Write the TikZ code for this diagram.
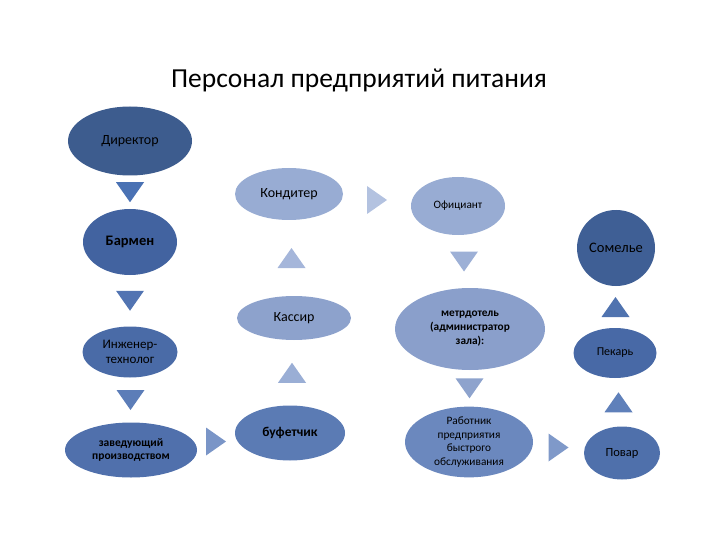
\documentclass[tikz,border=0pt]{standalone}
\usepackage{fontspec}
\setmainfont{Carlito}
\usepackage{xcolor}
\usepackage{tikz}
\usetikzlibrary{shapes.geometric,calc}

% ellipse fills
\definecolor{cDir}{HTML}{3D5C8E}
\definecolor{cBar}{HTML}{4263A0}
\definecolor{cIng}{HTML}{4A6BA7}
\definecolor{cZav}{HTML}{5070AC}
\definecolor{cBuf}{HTML}{5B7BB4}
\definecolor{cKas}{HTML}{8DA2CC}
\definecolor{cKon}{HTML}{98ACD3}
\definecolor{cMet}{HTML}{8A9FCB}
\definecolor{cRab}{HTML}{6B88BE}
\definecolor{cPov}{HTML}{4F70AB}
\definecolor{cPek}{HTML}{4869A6}
\definecolor{cSom}{HTML}{3F5F95}
% arrow triangles
\definecolor{tDir}{HTML}{4A72B4}
\definecolor{tBar}{HTML}{5274B2}
\definecolor{tIng}{HTML}{5C7DB8}
\definecolor{tZav}{HTML}{7A95C7}
\definecolor{tBuf}{HTML}{9AAED5}
\definecolor{tKas}{HTML}{A5B6DA}
\definecolor{tKon}{HTML}{B3C2E0}
\definecolor{tOff}{HTML}{9DB0D6}
\definecolor{tMet}{HTML}{8EA3CD}
\definecolor{tRab}{HTML}{7F99C9}
\definecolor{tPov}{HTML}{5F80BA}
\definecolor{tPek}{HTML}{5073AF}

\tikzset{
    role/.style={ellipse, inner sep=0pt, align=center, text=black, font=\fontsize{13.5}{15}\selectfont},
    small/.style={font=\fontsize{11.3}{13.5}\selectfont},
    tridown/.pic={\path[pic actions] (-14,-10) -- (14,-10) -- (0,10) -- cycle;},
    triup/.pic={\path[pic actions] (-14,10) -- (14,10) -- (0,-10) -- cycle;},
    triright/.pic={\path[pic actions] (-10,-14) -- (10,0) -- (-10,14) -- cycle;}
}

\begin{document}
\begin{tikzpicture}[x=1pt, y=-1pt]
    \useasboundingbox (0,0) rectangle (720,540);
    \node[anchor=base, font=\fontsize{27.5}{32}\selectfont] (title) at (359,88) {Персонал предприятий питания};

    % left column
    \node[role, fill=cDir, minimum width=124, minimum height=69, font=\fontsize{14}{16}\selectfont] (dir) at (130,141) {Директор};
    \node[role, fill=cBar, minimum width=94, minimum height=66, font=\fontsize{14.5}{16}\bfseries] (bar) at (130,242) {Бармен};
    \node[role, fill=cIng, minimum width=95, minimum height=51, font=\fontsize{13}{14.5}\selectfont] (ing) at (130,352) {Инженер-\\технолог};
    \node[role, fill=cZav, minimum width=132, minimum height=55, font=\fontsize{11.5}{13}\bfseries] (zav) at (131,450) {заведующий\\производством};

    % middle column
    \node[role, fill=cBuf, minimum width=110, minimum height=55, font=\fontsize{13.5}{15}\bfseries] (buf) at (290,433) {буфетчик};
    \node[role, fill=cKas, minimum width=114, minimum height=44, font=\fontsize{14}{15}\selectfont] (kas) at (294,318) {Кассир};
    \node[role, fill=cKon, minimum width=108, minimum height=52, font=\fontsize{14}{15}\selectfont] (kon) at (289,194) {Кондитер};
    \node[role, fill=cKon, minimum width=94, minimum height=58, small] (off) at (458,206) {Официант};
    \node[role, fill=cMet, minimum width=150, minimum height=82, font=\fontsize{11.3}{14}\bfseries] (met) at (470,329) {метрдотель\\(администратор\\зала):};
    \node[role, fill=cRab, minimum width=128, minimum height=70, small] (rab) at (469,442) {Работник\\предприятия\\быстрого\\обслуживания};

    % right column
    \node[role, fill=cPov, minimum width=76, minimum height=53, font=\fontsize{12.5}{14}\selectfont] (pov) at (622,453) {Повар};
    \node[role, fill=cPek, minimum width=83, minimum height=50, font=\fontsize{12}{14}\selectfont] (pek) at (615,353) {Пекарь};
    \node[role, fill=cSom, minimum width=78, minimum height=76, font=\fontsize{14.5}{16}\selectfont] (som) at (616,248) {Сомелье};

    % triangle connectors
    \foreach \a/\b/\c in {dir/bar/tDir, bar/ing/tBar, ing/zav/tIng, off/met/tOff, met/rab/tMet}
        \pic[fill=\c] at ($(\a.south)!0.5!(\b.north)$) {tridown};
    \foreach \a/\b/\c in {buf/kas/tBuf, kas/kon/tKas, pov/pek/tPov, pek/som/tPek}
        \pic[fill=\c] at ($(\a.north)!0.5!(\b.south)$) {triup};
    \foreach \a/\b/\c in {zav/buf/tZav, kon/off/tKon, rab/pov/tRab}
        \pic[fill=\c] at ($(\a.east)!0.5!(\b.west)$) {triright};
\end{tikzpicture}
\end{document}
